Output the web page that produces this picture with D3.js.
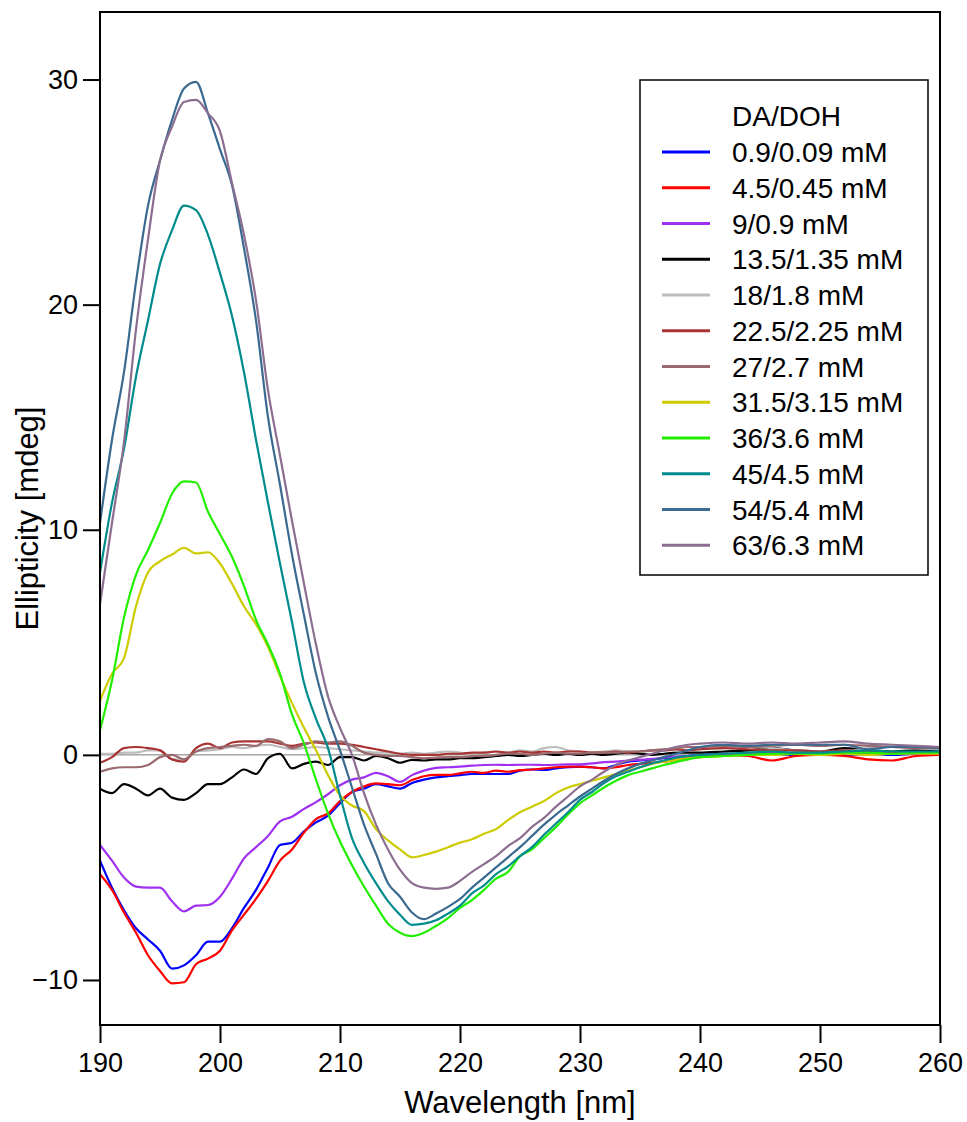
<!DOCTYPE html>
<html>
<head>
<meta charset="utf-8">
<script src="https://cdn.jsdelivr.net/npm/d3@7"></script>
<style>
  body { margin: 0; background: #fff; }
  svg { display: block; font-family: "Liberation Sans", Arial, Helvetica, sans-serif; }
</style>
</head>
<body>
<svg id="chart" width="967" height="1122"></svg>
<script>
// wavelength grid (nm): 1 nm steps to 240, then 2 nm
const wavelengths = [190,191,192,193,194,195,196,197,198,199,200,201,202,203,204,205,206,207,208,209,
  210,211,212,213,214,215,216,217,218,219,220,221,222,223,224,225,226,227,228,229,
  230,231,232,233,234,235,236,237,238,239,240,242,244,246,248,250,252,254,256,258,260];

const labels = ["0.9/0.09 mM","4.5/0.45 mM","9/0.9 mM","13.5/1.35 mM","18/1.8 mM","22.5/2.25 mM",
  "27/2.7 mM","31.5/3.15 mM","36/3.6 mM","45/4.5 mM","54/5.4 mM","63/6.3 mM"];
const colors = ["#0000ff","#ff0000","#a030f0","#000000","#bdbdbd","#a83434",
  "#9a6a6e","#cccc00","#22ee00","#008c8c","#3a6a90","#8c6e90"];

const s0_9 = [-4.7,-5.9,-6.9,-7.7,-8.2,-8.7,-9.5,-9.35,-8.9,-8.3,-8.3,-7.7,-6.8,-6.0,-5.0,-4.0,-3.9,-3.4,-3.0,-2.7,
  -2.15,-1.65,-1.5,-1.3,-1.4,-1.5,-1.25,-1.1,-1.0,-0.95,-0.9,-0.85,-0.85,-0.85,-0.85,-0.7,-0.65,-0.67,-0.6,-0.55,
  -0.52,-0.55,-0.6,-0.45,-0.3,-0.25,-0.2,-0.15,-0.1,-0.05,0,0.05,0.0,0.05,0.0,0.05,0.0,0.05,0.0,0.05,0.05];
const s4_5 = [-5.3,-6.0,-7.0,-7.9,-8.9,-9.6,-10.15,-10.1,-9.3,-9.05,-8.7,-7.8,-7.1,-6.4,-5.6,-4.7,-4.2,-3.45,-2.85,-2.6,
  -2.05,-1.65,-1.4,-1.27,-1.3,-1.35,-1.12,-0.95,-0.89,-0.89,-0.82,-0.75,-0.8,-0.7,-0.75,-0.68,-0.65,-0.6,-0.55,-0.52,
  -0.52,-0.55,-0.6,-0.55,-0.45,-0.4,-0.35,-0.3,-0.22,-0.15,-0.1,0,-0.05,-0.25,-0.05,0,-0.05,-0.2,-0.25,-0.05,0];
const s9 = [-4.0,-4.7,-5.45,-5.85,-5.9,-5.9,-6.5,-6.95,-6.7,-6.67,-6.3,-5.5,-4.6,-4.1,-3.6,-2.95,-2.75,-2.4,-2.1,-1.75,
  -1.35,-1.1,-1.0,-0.8,-0.95,-1.2,-0.9,-0.7,-0.58,-0.55,-0.52,-0.48,-0.45,-0.44,-0.45,-0.44,-0.44,-0.45,-0.44,-0.42,
  -0.42,-0.38,-0.32,-0.3,-0.25,-0.22,-0.18,-0.12,-0.08,-0.05,0,0.05,0.05,0.1,0.05,0.05,0.1,0.05,0.05,0.1,0.1];
const s13_5 = [-1.5,-1.7,-1.3,-1.5,-1.8,-1.5,-1.9,-2.0,-1.7,-1.3,-1.3,-1.0,-0.65,-0.85,-0.15,0.05,-0.6,-0.4,-0.3,-0.45,
  -0.1,-0.1,-0.25,-0.05,-0.15,-0.35,-0.22,-0.25,-0.2,-0.2,-0.15,-0.15,-0.1,-0.05,0,-0.05,0,0.05,0,0.05,
  0,0.05,0,0.05,0.1,0.05,0.0,0.05,0.1,0.1,0.1,0.15,0.2,0.3,0.2,0.15,0.3,0.2,0.15,0.2,0.15];
const s18 = [0.05,0.05,0.1,0.1,0.2,0.2,-0.2,-0.2,0.15,0.2,0.25,0.35,0.3,0.4,0.45,0.35,0.25,0.3,0.35,0.3,
  0.25,0.2,0.15,0.1,0.1,0.05,0.1,0.05,0.1,0.15,0.1,0.05,0.1,0.15,0.1,0.2,0.15,0.3,0.35,0.2,
  0.15,0.1,0.15,0.2,0.15,0.15,0.2,0.25,0.2,0.2,0.25,0.3,0.35,0.3,0.2,0.15,0.15,0.3,0.35,0.3,0.25];
const s22_5 = [-0.35,-0.1,0.3,0.35,0.3,0.2,-0.2,-0.3,0.3,0.5,0.3,0.55,0.6,0.6,0.6,0.5,0.4,0.5,0.55,0.5,
  0.5,0.45,0.35,0.25,0.15,0.05,0,0.0,0.0,0.05,0.05,0.1,0.1,0.15,0.1,0.15,0.1,0.15,0.1,0.15,
  0.15,0.1,0.1,0.15,0.1,0.15,0.2,0.2,0.25,0.2,0.25,0.3,0.25,0.2,0.2,0.15,0.2,0.15,0.1,0.1,0.1];
const s27 = [-0.75,-0.6,-0.55,-0.55,-0.45,-0.1,0.0,-0.2,0.15,0.3,0.35,0.4,0.45,0.4,0.7,0.6,0.3,0.45,0.6,0.55,
  0.6,0.4,0.1,0.0,-0.05,-0.05,-0.1,-0.15,-0.12,-0.1,-0.1,-0.05,-0.05,0.0,0.05,0.05,0.0,0.05,0.1,0.05,
  0.05,0.1,0.1,0.1,0.15,0.15,0.2,0.25,0.3,0.35,0.35,0.4,0.35,0.4,0.45,0.4,0.45,0.4,0.35,0.3,0.3];
const s31_5 = [2.4,3.6,4.3,6.6,8.1,8.6,8.9,9.2,8.95,9.0,8.5,7.6,6.6,5.8,4.8,3.5,2.3,1.2,0.2,-0.9,
  -1.8,-2.25,-2.5,-3.3,-3.8,-4.2,-4.55,-4.45,-4.3,-4.1,-3.9,-3.75,-3.5,-3.3,-2.9,-2.55,-2.3,-2.05,-1.7,-1.45,
  -1.3,-1.15,-1.0,-0.85,-0.7,-0.55,-0.4,-0.3,-0.22,-0.15,-0.1,-0.05,0,0,0.05,0,0.05,0,0.05,0.05,0.05];
const s36 = [1.1,3.3,6.1,8.0,9.1,10.3,11.6,12.15,12.1,10.8,9.8,8.8,7.5,6.0,4.9,3.6,1.8,0.5,-1.1,-2.6,
  -3.85,-4.9,-5.85,-6.7,-7.5,-7.9,-8.05,-7.9,-7.6,-7.25,-6.8,-6.45,-6.0,-5.5,-5.2,-4.5,-4.2,-3.7,-3.2,-2.65,
  -2.15,-1.8,-1.45,-1.15,-0.9,-0.75,-0.6,-0.45,-0.32,-0.2,-0.1,-0.05,0,0.05,0.05,0.05,0.1,0.1,0.05,0.1,0.1];
const s45 = [8.1,11.2,13.6,16.8,19.3,21.8,23.3,24.4,24.2,23.1,21.4,19.5,17.0,14.0,11.2,8.5,5.9,3.2,1.6,0.3,
  -1.8,-3.7,-4.8,-5.7,-6.5,-7.1,-7.55,-7.5,-7.35,-7.05,-6.7,-6.15,-5.8,-5.3,-4.95,-4.5,-4.1,-3.55,-3.05,-2.55,
  -2.0,-1.65,-1.25,-0.95,-0.75,-0.55,-0.38,-0.25,-0.12,-0.05,0.0,0.05,0.1,0.15,0.1,0.1,0.15,0.2,0.15,0.15,0.15];
const s54 = [10.3,14.0,17.0,21.0,24.4,26.4,28.2,29.6,29.9,28.5,26.9,25.3,22.5,19.3,15.0,12.0,8.9,6.2,3.6,1.7,
  0.2,-1.45,-3.1,-4.4,-5.7,-6.3,-7.0,-7.3,-7.05,-6.75,-6.4,-5.9,-5.45,-5.0,-4.55,-4.1,-3.6,-3.1,-2.65,-2.25,
  -1.85,-1.5,-1.15,-0.85,-0.6,-0.4,-0.25,-0.1,0.05,0.2,0.35,0.45,0.4,0.45,0.45,0.45,0.45,0.25,0.35,0.35,0.3];
const s63 = [6.7,10.3,13.9,18.9,22.9,26.4,27.9,29.0,29.1,28.5,27.7,25.4,23.1,20.2,16.2,13.3,10.4,7.6,4.9,2.6,
  1.2,0.0,-1.7,-3.1,-4.2,-5.1,-5.7,-5.9,-5.95,-5.9,-5.6,-5.2,-4.85,-4.5,-4.05,-3.7,-3.2,-2.8,-2.3,-1.85,
  -1.4,-1.1,-0.75,-0.45,-0.25,-0.1,0.05,0.2,0.35,0.45,0.5,0.55,0.5,0.55,0.5,0.55,0.6,0.5,0.45,0.4,0.35];

const seriesValues = [s0_9, s4_5, s9, s13_5, s18, s22_5, s27, s31_5, s36, s45, s54, s63];
const xTicks = [190, 200, 210, 220, 230, 240, 250, 260];
const yTicks = [-10, 0, 10, 20, 30];

const svg = d3.select("#chart"),
    margin = { top: 12, right: 27, bottom: 97, left: 100 },
    width = +svg.attr("width") - margin.left - margin.right,
    height = +svg.attr("height") - margin.top - margin.bottom;

const g = svg.append("g").attr("transform", `translate(${margin.left},${margin.top})`);

const x = d3.scaleLinear().domain([190, 260]).range([0, width]);
const y = d3.scaleLinear().domain([-12, 33]).range([height, 0]);

g.append("clipPath").attr("id", "plot-clip")
    .append("rect").attr("width", width).attr("height", height);

// zero line
g.append("line")
    .attr("x1", 0).attr("x2", width)
    .attr("y1", y(0)).attr("y2", y(0))
    .attr("stroke", "#7a7a7a")
    .attr("stroke-width", 1);

const line = d3.line()
    .x((d, i) => x(wavelengths[i]))
    .y(d => y(d))
    .curve(d3.curveMonotoneX);

g.append("g")
    .attr("clip-path", "url(#plot-clip)")
    .attr("fill", "none")
    .selectAll("path")
    .data(seriesValues)
    .join("path")
    .attr("d", d => line(d))
    .attr("stroke", (d, i) => colors[i])
    .attr("stroke-width", 2.2)
    .attr("stroke-linejoin", "round");

// frame
g.append("rect")
    .attr("width", width).attr("height", height)
    .attr("fill", "none")
    .attr("stroke", "#000")
    .attr("stroke-width", 2);

const xAxis = g.append("g")
    .attr("transform", `translate(0,${height})`)
    .call(d3.axisBottom(x).tickValues(xTicks).tickSize(18).tickPadding(10));
const yAxis = g.append("g")
    .call(d3.axisLeft(y).tickValues(yTicks).tickSize(17).tickPadding(5));

[xAxis, yAxis].forEach(a => {
    a.select(".domain").remove();
    a.selectAll(".tick line").attr("stroke", "#000").attr("stroke-width", 2);
    a.selectAll(".tick text")
        .attr("fill", "#000")
        .style("font-size", "27px")
        .style("font-family", "'Liberation Sans', Arial, sans-serif");
});

svg.append("text")
    .attr("x", margin.left + width / 2)
    .attr("y", 1113)
    .attr("text-anchor", "middle")
    .style("font-size", "31px")
    .text("Wavelength [nm]");

svg.append("text")
    .attr("transform", `translate(38,${margin.top + height / 2}) rotate(-90)`)
    .attr("text-anchor", "middle")
    .style("font-size", "31px")
    .text("Ellipticity [mdeg]");

// legend
const legend = svg.append("g").attr("transform", "translate(640,80)");
legend.append("rect")
    .attr("width", 288).attr("height", 495)
    .attr("fill", "#fff")
    .attr("stroke", "#000")
    .attr("stroke-width", 1.5);
legend.append("text")
    .attr("x", 92).attr("y", 46)
    .style("font-size", "28px")
    .text("DA/DOH");
const rows = legend.selectAll("g.row")
    .data(labels)
    .join("g")
    .attr("class", "row")
    .attr("transform", (d, i) => `translate(0,${72 + i * 35.75})`);
rows.append("line")
    .attr("x1", 22).attr("x2", 70)
    .attr("stroke", (d, i) => colors[i])
    .attr("stroke-width", 3);
rows.append("text")
    .attr("x", 92).attr("y", 10)
    .style("font-size", "28px")
    .text(d => d);
</script>
</body>
</html>
